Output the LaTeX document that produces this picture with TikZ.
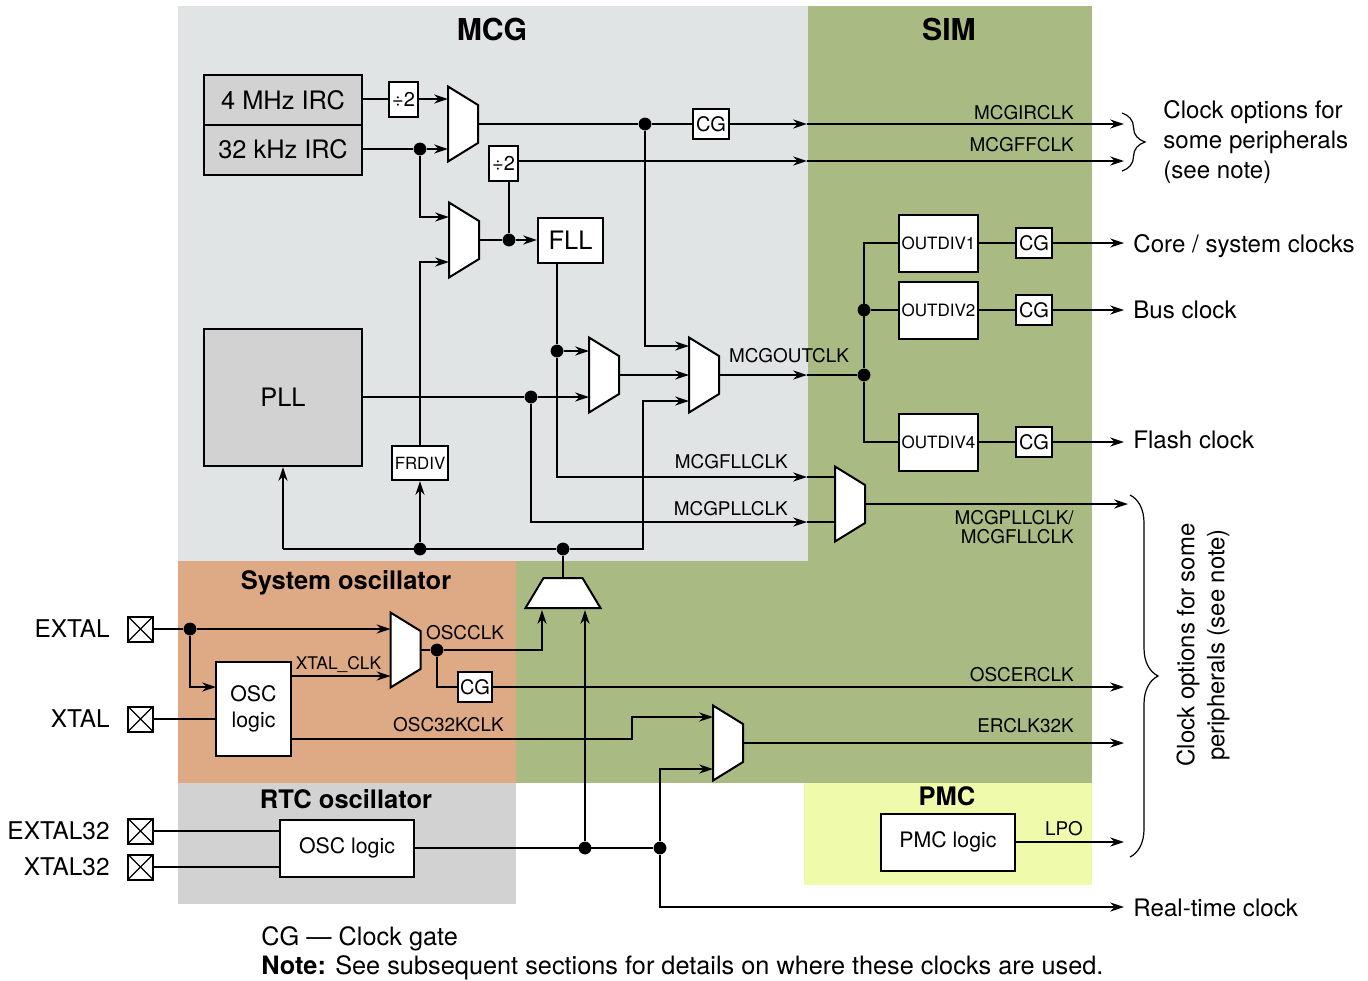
\documentclass[tikz,border=0pt]{standalone}
\usepackage{fontspec}
\setmainfont{TeX Gyre Heros}
\usepackage{tikz}
\usetikzlibrary{arrows.meta,positioning,decorations.pathreplacing}
\definecolor{mcgbg}{HTML}{E0E4E5}
\definecolor{simbg}{HTML}{A9BB82}
\definecolor{oscbg}{HTML}{DEA985}
\definecolor{rtcbg}{HTML}{D2D2D2}
\definecolor{pmcbg}{HTML}{EFFAAB}
\tikzset{
block/.style={draw,line width=1pt,fill=white,align=center,inner sep=0pt,font=\fontsize{10.65}{13}\selectfont},
irc/.style={block,fill=rtcbg,minimum width=79pt,minimum height=25pt,font=\fontsize{12.7}{15}\selectfont},
gate/.style={block,minimum width=18pt,minimum height=15pt,font=\fontsize{10}{12}\selectfont},
divtwo/.style={block,minimum width=14.5pt,minimum height=17.5pt,font=\fontsize{10}{12}\selectfont},
outdiv/.style={block,minimum width=39.5pt,minimum height=28.5pt,font=\fontsize{8.5}{10}\selectfont},
dot/.style={circle,fill=black,inner sep=0pt,minimum size=6.4pt},
pad/.style={draw,line width=1pt,inner sep=0pt,minimum size=12.5pt,path picture={
  \draw[line width=.6pt] (path picture bounding box.north west)--(path picture bounding box.south east);
  \draw[line width=.6pt] (path picture bounding box.north east)--(path picture bounding box.south west);}},
muxbox/.style={rectangle,inner sep=0pt,outer sep=0pt,minimum width=15pt,minimum height=37.5pt},
muxboxup/.style={rectangle,inner sep=0pt,outer sep=0pt,minimum width=37.5pt,minimum height=15pt},
muxshape/.style={draw,line width=1pt,fill=white,line join=miter},
wire/.style={line width=.95pt},
arrow/.style={-{Stealth[length=7pt,width=4.6pt,inset=2.4pt]},line width=.95pt},
title/.style={font=\fontsize{15.1}{17}\selectfont\bfseries,inner sep=0pt},
subtitle/.style={font=\fontsize{12.75}{14}\selectfont\bfseries,inner sep=0pt},
biglabel/.style={font=\fontsize{12.05}{15}\selectfont,inner sep=0pt},
notelabel/.style={font=\fontsize{12.65}{15}\selectfont,inner sep=0pt},
siglabel/.style={font=\fontsize{9.45}{9.5}\selectfont,inner sep=0pt},
bracket/.style={decorate,line width=.6pt}
}
\newcommand{\muxright}[2]{\node[muxbox] (#1) at (#2) {};
\draw[muxshape] (#1.north west)--([yshift=-9.25pt]#1.north east)--([yshift=9.25pt]#1.south east)--(#1.south west)--cycle;}
\newcommand{\muxup}[2]{\node[muxboxup] (#1) at (#2) {};
\draw[muxshape] (#1.south west)--([xshift=9pt]#1.north west)--([xshift=-9pt]#1.north east)--(#1.south east)--cycle;}
\begin{document}
\begin{tikzpicture}[x=.5pt,y=-.5pt]
\useasboundingbox (0,0) rectangle (1368,980);
% coloured areas
\fill[simbg] (808,6) rectangle (1092,783);
\fill[simbg] (516,561) rectangle (808,783);
\fill[mcgbg] (178,6) rectangle (808,561);
\fill[oscbg] (178,561) rectangle (516,783);
\fill[rtcbg] (178,783) rectangle (516,904);
\fill[pmcbg] (804,783) rectangle (1092,885);
\node[title] (mcgtitle) at (492,29) {MCG};
\node[title] (simtitle) at (949,29) {SIM};
\node[subtitle] (sysosctitle) at (346,583) {System oscillator};
\node[subtitle] (rtctitle) at (346,799) {RTC oscillator};
\node[subtitle] (pmctitle) at (947,796) {PMC};

\coordinate (simedge) at (807,0);
\coordinate (outedge) at (1124,0);

% MCG
\node[irc] (irc4) at (283,100) {4 MHz IRC};
\node[irc] (irc32) at (283,149.5) {32 kHz IRC};
\node[divtwo] (diva) at (403.5,99) {÷2};
\node[divtwo] (divb) at (503.5,163.5) {÷2};
\node[block,minimum width=32.5pt,minimum height=22.5pt,font=\fontsize{12.7}{15}\selectfont] (fll) at (570.5,240) {FLL};
\node[block,fill=rtcbg,minimum width=79pt,minimum height=68.5pt,font=\fontsize{12.7}{15}\selectfont] (pll) at (283,397.5) {PLL};
\node[block,minimum width=28pt,minimum height=17pt,font=\fontsize{8.4}{10}\selectfont] (frdiv) at (420,463) {FRDIV};
\node[gate] (cgtop) at (711,124) {CG};
\muxright{muxa}{463,124}
\muxright{muxb}{464,240}
\muxright{muxc}{604,375}
\muxright{muxd}{704,375}
\muxright{muxe}{850,504}
\muxup{muxf}{563,593}
\node[dot] (j32) at (420,149) {};
\node[dot] (jmuxb) at (509,240) {};
\node[dot] (jirc) at (645,124) {};
\node[dot] (jfll) at (557,351) {};
\node[dot] (jpll) at (531,397) {};
\node[dot] (jfrd) at (420,549) {};
\node[dot] (jbus) at (563,549) {};
\coordinate (muxba) at (449,217);
\coordinate (muxbb) at (449,262);
\coordinate (ffstart) at (518,161);
\coordinate (muxda) at (689,346);
\coordinate (muxdc) at (689,401);
\coordinate (muxea) at (835,477);
\coordinate (muxeb) at (835,522);
\coordinate (fbstart) at (283,549);
\coordinate (fbend) at (643,549);
\coordinate (optend) at (1128,504);

\draw[wire] (diva-|irc4.east)--(diva);
\draw[arrow] (diva)--(diva-|muxa.west);
\draw[wire] (j32-|irc32.east)--(j32);
\draw[arrow] (j32)--(j32-|muxa.west);
\draw[arrow] (j32)|-(muxba);
\draw[arrow] (frdiv)|-(muxbb);
\draw[wire] (muxb.east)--(jmuxb);
\draw[arrow] (jmuxb)--(fll);
\draw[wire] (jmuxb)--(jmuxb|-divb.south);
\draw[wire] (muxa.east)--(jirc)--(cgtop);
\draw[arrow] (cgtop)--(simedge|-cgtop);
\draw[arrow] (simedge|-cgtop)--(outedge|-cgtop);
\draw[arrow] (ffstart)--(simedge|-ffstart);
\draw[arrow] (simedge|-ffstart)--(outedge|-ffstart);
\draw[arrow] (jirc)|-(muxda);
\draw[wire] (jfll|-fll.south)--(jfll);
\draw[arrow] (jfll)--(jfll-|muxc.west);
\draw[arrow] (jfll)|-(simedge|-muxea);
\draw[wire] (simedge|-muxea)--(muxea);
\draw[wire] (jpll-|pll.east)--(jpll);
\draw[arrow] (jpll)--(jpll-|muxc.west);
\draw[arrow] (jpll)|-(simedge|-muxeb);
\draw[wire] (simedge|-muxeb)--(muxeb);
\draw[arrow] (muxc.east)--(muxd.west);
\draw[arrow] (fbstart)--(pll.south);
\draw[wire] (fbstart)--(jbus);
\draw[arrow] (jbus)--(fbend)|-(muxdc);
\draw[arrow] (jfrd)--(frdiv);
\draw[wire] (muxf.north)--(jbus);
\draw[arrow] (muxe.east)--(optend);

% SIM
\node[outdiv] (outdiva) at (938.5,243) {OUTDIV1};
\node[outdiv] (outdivb) at (938.5,310) {OUTDIV2};
\node[outdiv] (outdivc) at (938.5,442) {OUTDIV4};
\node[gate] (cga) at (1034,243) {CG};
\node[gate] (cgb) at (1034,310) {CG};
\node[gate] (cgc) at (1034,442) {CG};
\node[dot] (jout) at (864,375) {};
\node[dot] (jdivb) at (864,310) {};
\draw[arrow] (muxd.east)--(simedge|-muxd.east);
\draw[wire] (simedge|-muxd.east)--(jout);
\draw[wire] (outdiva)-|(jout);
\draw[wire] (outdivc)-|(jout);
\draw[wire] (jdivb)--(outdivb);
\draw[wire] (outdiva)--(cga);
\draw[wire] (outdivb)--(cgb);
\draw[wire] (outdivc)--(cgc);
\draw[arrow] (cga)--(outedge|-cga);
\draw[arrow] (cgb)--(outedge|-cgb);
\draw[arrow] (cgc)--(outedge|-cgc);

% oscillators
\node[pad] (extal) at (140.5,629) {};
\node[pad] (xtal) at (140.5,719) {};
\node[pad] (extaltwo) at (140.5,831) {};
\node[pad] (xtaltwo) at (140.5,867) {};
\node[biglabel,left=8.5pt of extal,font=\fontsize{12.2}{15}\selectfont] (extallabel) {EXTAL};
\node[biglabel,left=8.5pt of xtal,font=\fontsize{12.2}{15}\selectfont] (xtallabel) {XTAL};
\node[biglabel,left=8.5pt of extaltwo,font=\fontsize{12.2}{15}\selectfont] (extaltwolabel) {EXTAL32};
\node[biglabel,left=8.5pt of xtaltwo,font=\fontsize{12.2}{15}\selectfont] (xtaltwolabel) {XTAL32};
\node[block,minimum width=37.5pt,minimum height=47pt] (osc) at (253.5,709) {OSC\\logic};
\node[block,minimum width=67pt,minimum height=28.5pt] (rtc) at (347,848) {OSC logic};
\node[block,minimum width=67pt,minimum height=28.5pt] (pmc) at (948,842) {PMC logic};
\node[gate,minimum width=17pt] (cgosc) at (475,687) {CG};
\muxright{muxg}{405.5,650}
\muxright{muxh}{728,743}
\node[dot] (jext) at (190,629) {};
\node[dot] (josc) at (437,650) {};
\node[dot] (jrtca) at (585,848) {};
\node[dot] (jrtc) at (660,848) {};
\coordinate (oscin) at (216,687);
\coordinate (xclk) at (291,676);
\coordinate (oscout) at (291,739);
\coordinate (oscbend) at (632,739);
\coordinate (muxha) at (713,717);
\coordinate (muxhb) at (713,769);
\coordinate (muxfa) at (542,610);
\coordinate (muxfb) at (585,610);
\coordinate (rtcend) at (1124,907);

\draw[wire] (extal)--(jext);
\draw[arrow] (jext)--(jext-|muxg.west);
\draw[arrow] (jext)|-(oscin);
\draw[wire] (xtal)--(xtal-|osc.west);
\draw[arrow] (xclk)--(xclk-|muxg.west);
\draw[wire] (muxg.east)--(josc);
\draw[arrow] (josc)-|(muxfa);
\draw[wire] (josc)|-(cgosc);
\draw[arrow] (cgosc)--(outedge|-cgosc);
\draw[arrow] (oscout)--(oscbend)|-(muxha);
\draw[arrow] (muxh.east)--(outedge|-muxh.east);
\draw[wire] (extaltwo)--(extaltwo-|rtc.west);
\draw[wire] (xtaltwo)--(xtaltwo-|rtc.west);
\draw[wire] (rtc)--(jrtc);
\draw[arrow] (jrtca)--(muxfb);
\draw[arrow] (jrtc)|-(muxhb);
\draw[arrow] (jrtc)|-(rtcend);
\draw[arrow] (pmc)--(outedge|-pmc);

% signal names
\node[siglabel,anchor=east] (mcgirclk) at (1074,113) {MCGIRCLK};
\node[siglabel,anchor=east] (mcgffclk) at (1074,145) {MCGFFCLK};
\node[siglabel] (mcgoutclk) at (789,356) {MCGOUTCLK};
\node[siglabel,anchor=east] (mcgfllclk) at (788,462) {MCGFLLCLK};
\node[siglabel,anchor=east] (mcgpllclk) at (788,509) {MCGPLLCLK};
\node[siglabel,anchor=east,align=right] (mcgboth) at (1074,527) {MCGPLLCLK/\\MCGFLLCLK};
\node[siglabel] (oscclk) at (465,633) {OSCCLK};
\node[siglabel,font=\fontsize{8.7}{11}\selectfont] (xtalclk) at (338.5,665) {XTAL\_CLK};
\node[siglabel,anchor=east] (osc32) at (504,725) {OSC32KCLK};
\node[siglabel,anchor=east] (oscerclk) at (1074,675) {OSCERCLK};
\node[siglabel,anchor=east] (erclk) at (1074,726) {ERCLK32K};
\node[siglabel] (lpo) at (1064,829) {LPO};

% outputs
\node[biglabel,anchor=west,align=left] (optsa) at (1163,142) {Clock options for\\some peripherals\\(see note)};
\node[biglabel,anchor=west] (corelabel) at (1133,246) {Core / system clocks};
\node[biglabel,anchor=west] (buslabel) at (1133,310) {Bus clock};
\node[biglabel,anchor=west] (flashlabel) at (1133,440) {Flash clock};
\node[biglabel,anchor=west] (rtclabel) at (1133,908) {Real-time clock};
\node[biglabel,rotate=90,align=center,font=\fontsize{11.95}{15}\selectfont] (optsb) at (1203,645) {Clock options for some\\peripherals (see note)};
\coordinate (bracea) at (1122,113);
\coordinate (braceb) at (1122,171);
\coordinate (bracec) at (1130,495);
\coordinate (braced) at (1130,857);
\draw[bracket,decoration={brace,amplitude=11.5pt}] (bracea)--(braceb);
\draw[bracket,decoration={brace,amplitude=14pt}] (bracec)--(braced);

% footnote
\node[notelabel,anchor=west] (cgnote) at (261,939) {CG — Clock gate};
\node[notelabel,anchor=west] (usenote) at (261,968) {\textbf{Note:} See subsequent sections for details on where these clocks are used.};
\end{tikzpicture}
\end{document}
